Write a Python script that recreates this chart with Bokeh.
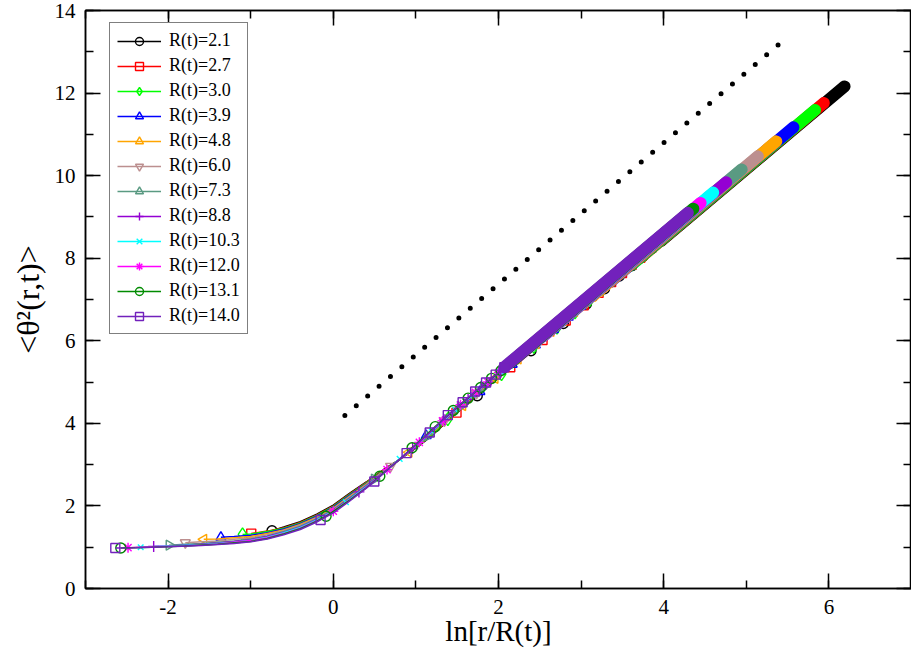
import math
import numpy as np
from bokeh.plotting import figure
from bokeh.models import SingleIntervalTicker, LinearAxis, Legend, LegendItem, CustomJSTickFormatter
from bokeh.embed import file_html
from bokeh.resources import INLINE

# ---------------- data ----------------
R_VALUES = [2.1, 2.7, 3.0, 3.9, 4.8, 6.0, 7.3, 8.8, 10.3, 12.0, 13.1, 14.0]
LEGEND_LABELS = ["R(t)=2.1", "R(t)=2.7", "R(t)=3.0", "R(t)=3.9", "R(t)=4.8", "R(t)=6.0",
                 "R(t)=7.3", "R(t)=8.8", "R(t)=10.3", "R(t)=12.0", "R(t)=13.1", "R(t)=14.0"]
COLORS = ["#000000", "#FF0000", "#00FF00", "#0000FF", "#FFA500", "#BC8F8F",
          "#5A9A82", "#9400D3", "#00FFFF", "#FF00FF", "#008B00", "#7221BC"]
MARKERS = ["circle", "square", "diamond", "triangle", "triangle", "inverted_triangle",
           "triangle", "cross", "x", "asterisk", "circle", "square"]
MARKER_ANGLES = [0, 0, 0, 0, math.pi / 2, 0, -math.pi / 2, 0, 0, 0, 0, 0]
MARKER_SIZES = [10, 9, 13, 10, 10, 10, 10, 11, 8, 10, 10, 9]

# distances r (lattice units) carrying a symbol, and the largest distance
MARKER_R = [1, 12, 23, 34, 45, 56, 67, 78, 89, 100, 111]
R_MAX = 1024

# <theta^2(r,t)> at the symbol positions
MARKER_Y = [
    [1.40, 4.67, 5.76, 6.42, 6.89, 7.26, 7.57, 7.82, 8.04, 8.24, 8.42],
    [1.33, 4.26, 5.36, 6.02, 6.49, 6.86, 7.16, 7.42, 7.64, 7.84, 8.01],
    [1.31, 4.10, 5.19, 5.85, 6.32, 6.69, 6.99, 7.25, 7.47, 7.67, 7.84],
    [1.24, 3.70, 4.77, 5.43, 5.90, 6.27, 6.57, 6.83, 7.05, 7.25, 7.42],
    [1.19, 3.30, 4.43, 5.09, 5.56, 5.93, 6.23, 6.49, 6.71, 6.91, 7.08],
    [1.11, 2.96, 4.06, 4.73, 5.21, 5.57, 5.88, 6.13, 6.35, 6.55, 6.73],
    [1.05, 2.65, 3.70, 4.41, 4.89, 5.25, 5.56, 5.81, 6.03, 6.23, 6.41],
    [1.02, 2.34, 3.39, 4.09, 4.58, 4.95, 5.25, 5.51, 5.73, 5.93, 6.10],
    [1.00, 2.09, 3.14, 3.80, 4.33, 4.69, 5.00, 5.25, 5.48, 5.67, 5.85],
    [0.99, 1.87, 2.88, 3.54, 4.06, 4.45, 4.75, 5.00, 5.23, 5.42, 5.60],
    [0.98, 1.75, 2.72, 3.41, 3.92, 4.31, 4.61, 4.87, 5.09, 5.28, 5.46],
    [0.98, 1.66, 2.59, 3.28, 3.78, 4.20, 4.51, 4.77, 4.99, 5.18, 5.36],
]
# value at r = R_MAX
END_Y = [12.16, 11.76, 11.59, 11.17, 10.83, 10.47, 10.15, 9.84, 9.59, 9.34, 9.20, 9.10]

# intermediate curve points (between symbols)
KNOT_X = [
    [-0.6, -0.4, -0.2, 0.0, 0.2, 0.4, 0.6, 0.8, 1.0, 1.2, 1.4],
    [-0.8, -0.6, -0.4, -0.2, 0.0, 0.2, 0.4, 0.6, 0.8, 1.0, 1.2],
    [-1.0, -0.8, -0.6, -0.4, -0.2, 0.0, 0.2, 0.4, 0.6, 0.8, 1.0, 1.2],
    [-1.2, -1.0, -0.8, -0.6, -0.4, -0.2, 0.0, 0.2, 0.4, 0.6, 0.8, 1.0, 1.4],
    [-1.4, -1.2, -1.0, -0.8, -0.6, -0.4, -0.2, 0.0, 0.2, 0.4, 0.6, 0.8, 1.2, 1.4],
    [-1.6, -1.4, -1.2, -1.0, -0.8, -0.6, -0.4, -0.2, 0.0, 0.2, 0.4, 0.6, 0.8, 1.0, 1.2],
    [-1.8, -1.6, -1.4, -1.2, -1.0, -0.8, -0.6, -0.4, -0.2, 0.0, 0.2, 0.4, 0.8, 1.0],
    [-2.0, -1.6, -1.4, -1.2, -1.0, -0.8, -0.6, -0.4, -0.2, 0.0, 0.2, 0.6, 0.8, 1.2],
    [-2.0, -1.6, -1.4, -1.2, -1.0, -0.8, -0.6, -0.4, -0.2, 0.0, 0.4, 0.6, 1.0],
    [-2.2, -1.8, -1.4, -1.0, -0.8, -0.6, -0.4, -0.2, 0.2, 0.4, 0.8],
    [-2.2, -1.8, -1.4, -1.0, -0.8, -0.6, -0.4, -0.2, 0.2, 0.4, 0.8],
    [-2.4, -2.0, -1.6, -1.2, -1.0, -0.8, -0.6, -0.4, -0.2, 0.0, 0.2, 0.4, 0.7, 1.0],
]
KNOT_Y = [
    [1.49, 1.62, 1.80, 2.02, 2.31, 2.58, 2.87, 3.12, 3.40, 3.71, 4.09],
    [1.39, 1.47, 1.60, 1.78, 2.00, 2.29, 2.57, 2.86, 3.12, 3.41, 3.73],
    [1.32, 1.38, 1.46, 1.59, 1.77, 1.99, 2.28, 2.56, 2.85, 3.12, 3.41, 3.74],
    [1.26, 1.29, 1.35, 1.44, 1.57, 1.75, 1.97, 2.26, 2.54, 2.84, 3.12, 3.43, 4.14],
    [1.20, 1.23, 1.26, 1.33, 1.42, 1.55, 1.73, 1.95, 2.24, 2.53, 2.83, 3.12, 3.77, 4.15],
    [1.13, 1.15, 1.19, 1.23, 1.30, 1.40, 1.53, 1.71, 1.93, 2.22, 2.51, 2.82, 3.12, 3.44, 3.79],
    [1.07, 1.09, 1.12, 1.15, 1.20, 1.27, 1.38, 1.51, 1.69, 1.91, 2.20, 2.49, 3.12, 3.45],
    [1.03, 1.07, 1.10, 1.14, 1.18, 1.26, 1.36, 1.49, 1.67, 1.89, 2.18, 2.80, 3.12, 3.80],
    [1.03, 1.06, 1.09, 1.12, 1.17, 1.24, 1.35, 1.48, 1.66, 1.88, 2.47, 2.79, 3.46],
    [1.01, 1.03, 1.08, 1.16, 1.23, 1.33, 1.46, 1.64, 2.15, 2.45, 3.12],
    [1.00, 1.03, 1.07, 1.14, 1.21, 1.32, 1.45, 1.63, 2.14, 2.44, 3.12],
    [0.99, 1.01, 1.04, 1.09, 1.13, 1.20, 1.30, 1.43, 1.61, 1.83, 2.12, 2.43, 2.95, 3.48],
]

# dotted guide line
DOT_X = [0.14, 5.47]
DOT_Y = [4.19, 13.31]

X_RANGE = (-3, 7)
Y_RANGE = (0, 14)
TICK_INTERVAL = 2

FONT = "Liberation Serif"

# ---------------- figure ----------------
p = figure(frame_width=826, frame_height=578, x_range=X_RANGE, y_range=Y_RANGE,
           output_backend="svg", toolbar_location=None,
           min_border_left=85, min_border_top=10, min_border_right=0, min_border_bottom=0)
p.grid.visible = False
p.outline_line_color = "black"
p.outline_line_width = 1.5
p.background_fill_color = "white"
p.border_fill_color = "white"

plain_fmt = CustomJSTickFormatter(code="return tick.toString();")
blank_fmt = CustomJSTickFormatter(code="return '';")


def style_axis(ax, labels=True):
    ax.ticker = SingleIntervalTicker(interval=TICK_INTERVAL, num_minor_ticks=2)
    ax.axis_line_width = 1.5
    ax.axis_line_color = "black"
    ax.major_tick_in = 15
    ax.major_tick_out = 0
    ax.minor_tick_in = 8
    ax.minor_tick_out = 0
    ax.major_tick_line_width = 1.5
    ax.minor_tick_line_width = 1.5
    ax.major_tick_line_color = "black"
    ax.minor_tick_line_color = "black"
    if labels:
        ax.formatter = plain_fmt
        ax.major_label_text_font = FONT
        ax.major_label_text_font_size = "21px"
        ax.major_label_text_color = "black"
    else:
        ax.formatter = blank_fmt
        ax.major_label_text_font_size = "0px"
        ax.major_label_standoff = 0


style_axis(p.xaxis[0])
style_axis(p.yaxis[0])
p.xaxis[0].major_label_standoff = 11
p.yaxis[0].major_label_standoff = 10
p.xaxis[0].axis_label = "ln[r/R(t)]"
p.yaxis[0].axis_label = "<θ²(r,t)>"
for ax in (p.xaxis[0], p.yaxis[0]):
    ax.axis_label_text_font = FONT
    ax.axis_label_text_font_style = "normal"
    ax.axis_label_text_color = "black"
p.xaxis[0].axis_label_text_font_size = "29px"
p.yaxis[0].axis_label_text_font_size = "32px"
p.xaxis[0].axis_label_standoff = -2
p.yaxis[0].axis_label_standoff = 6

top_ax = LinearAxis()
right_ax = LinearAxis()
style_axis(top_ax, labels=False)
style_axis(right_ax, labels=False)
p.add_layout(top_ax, "above")
p.add_layout(right_ax, "right")

# dotted guide line
p.line(DOT_X, DOT_Y, line_color="black", line_width=5, line_dash="0 15", line_cap="round")

items = []
for i, R in enumerate(R_VALUES):
    c = COLORS[i]
    mx = np.log(np.array(MARKER_R, dtype=float) / R)
    my = np.array(MARKER_Y[i])
    xend = math.log(R_MAX / R)
    lx = np.concatenate([mx, np.array(KNOT_X[i]), [xend]])
    ly = np.concatenate([my, np.array(KNOT_Y[i]), [END_Y[i]]])
    order = np.argsort(lx)
    ln = p.line(lx[order], ly[order], line_color=c, line_width=1.5)
    # dense symbols beyond the last separated one merge into a solid band
    p.line([mx[-1], xend], [my[-1], END_Y[i]], line_color=c, line_width=12, line_cap="round")
    sc = p.scatter(mx, my, marker=MARKERS[i], size=MARKER_SIZES[i], angle=MARKER_ANGLES[i],
                   line_color=c, fill_color=None, line_width=1.4)
    items.append(LegendItem(label=LEGEND_LABELS[i], renderers=[ln, sc]))

legend = Legend(items=items, location=(24, 254))
legend.label_text_font = FONT
legend.label_text_font_size = "18px"
legend.label_text_color = "black"
legend.glyph_width = 44
legend.glyph_height = 20
legend.label_height = 20
legend.spacing = 4
legend.padding = 7
legend.margin = 0
legend.label_standoff = 8
legend.border_line_color = "black"
legend.border_line_width = 1.5
legend.background_fill_color = "white"
legend.background_fill_alpha = 1.0
p.add_layout(legend, "center")

open("out.html", "w").write(file_html(p, INLINE))
